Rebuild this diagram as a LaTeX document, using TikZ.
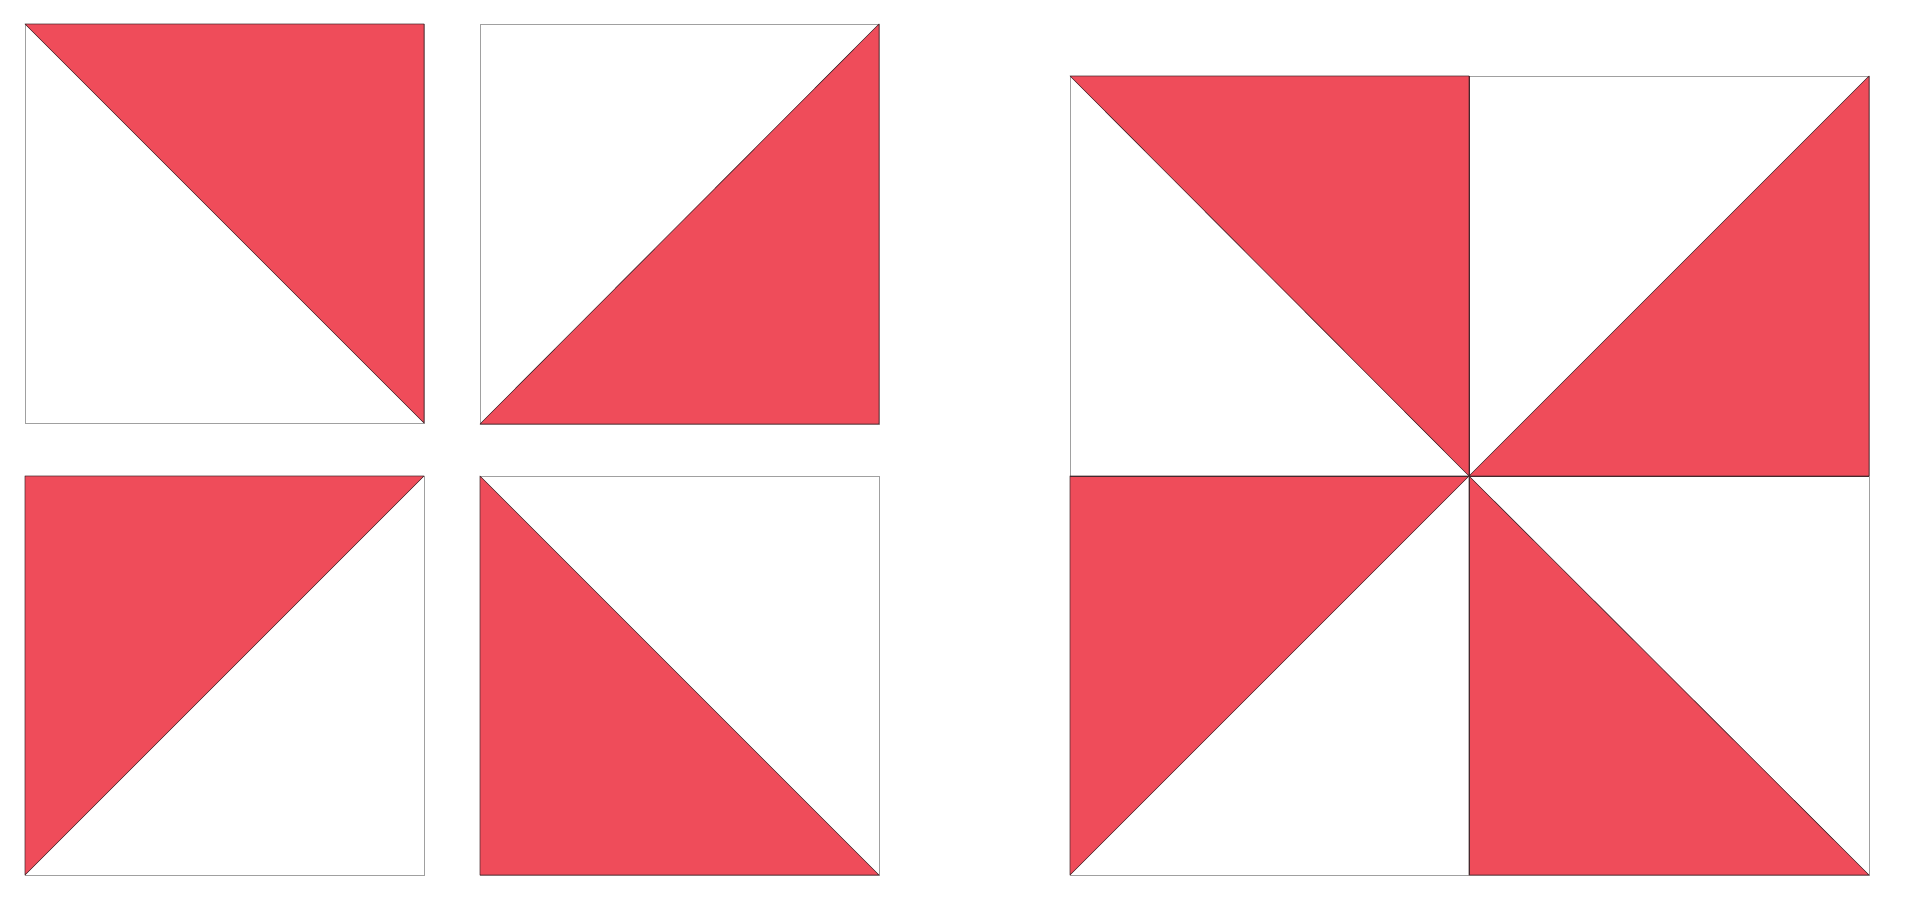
\documentclass[tikz,border=0pt]{standalone}
\definecolor{quiltred}{RGB}{239,76,90}
\definecolor{edgegray}{RGB}{160,160,160}
\definecolor{edgedark}{RGB}{70,40,45}
\begin{document}
\begin{tikzpicture}[x=1pt,y=-1pt,
  sq/.style={fill=white,draw=edgegray,line width=0.8pt},
  tri/.style={fill=quiltred,draw=edgedark,line width=0.6pt,line join=round}]
\useasboundingbox[fill=white] (0,0) rectangle (1916,921);
% square 1: red upper-right
\draw[sq] (25,24) rectangle (424,423);
\draw[tri] (25,24) -- (424,24) -- (424,423) -- cycle;
% square 2: red lower-right
\draw[sq] (480,24) rectangle (879,424);
\draw[tri] (879,24) -- (879,424) -- (480,424) -- cycle;
% square 3: red upper-left
\draw[sq] (25,476) rectangle (424,875);
\draw[tri] (25,476) -- (424,476) -- (25,875) -- cycle;
% square 4: red lower-left
\draw[sq] (480,476) rectangle (879,875);
\draw[tri] (480,476) -- (480,875) -- (879,875) -- cycle;
% big pinwheel
\draw[sq] (1070,76) rectangle (1469,476);
\draw[tri] (1070,76) -- (1469,76) -- (1469,476) -- cycle;
\draw[sq] (1469,76) rectangle (1869,476);
\draw[tri] (1869,76) -- (1869,476) -- (1469,476) -- cycle;
\draw[sq] (1070,476) rectangle (1469,875);
\draw[tri] (1070,476) -- (1469,476) -- (1070,875) -- cycle;
\draw[sq] (1469,476) rectangle (1869,875);
\draw[tri] (1469,476) -- (1469,875) -- (1869,875) -- cycle;
\draw[edgedark,line width=0.6pt] (1469,76) -- (1469,875);
\draw[edgedark,line width=0.6pt] (1070,476) -- (1869,476);
\end{tikzpicture}
\end{document}
